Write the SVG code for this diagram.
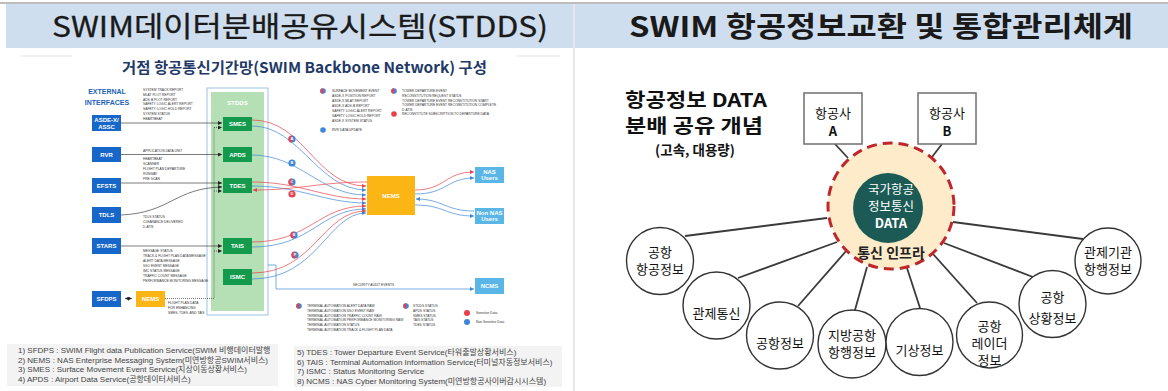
<svg xmlns="http://www.w3.org/2000/svg" width="1168" height="391" viewBox="0 0 1168 391">
<style>
.ko{font-family:"Noto Sans CJK KR","Liberation Sans",sans-serif}
.ls{font-family:"Liberation Sans","Noto Sans CJK KR",sans-serif}
.ext{fill:#1766c9}
.grn{fill:#149a4c}
.yel{fill:#fbb616}
.lbl{fill:#59b6e6}
.bw{font-family:"Liberation Sans",sans-serif;font-weight:bold;fill:#fff;text-anchor:middle;font-size:6px}
.tiny{font-family:"Liberation Sans",sans-serif;font-size:3.3px;fill:#333}
.k{stroke:#222;stroke-width:0.6;fill:none}
.dot{stroke:#222;stroke-width:0.6;fill:none;stroke-dasharray:1 1}
.r{stroke:#e8414b;stroke-width:0.7;fill:none}
.b{stroke:#3f86d8;stroke-width:0.7;fill:none}
.sat{fill:#fff;stroke:#333;stroke-width:1.4}
.st{font-family:"Noto Sans CJK KR",sans-serif;font-size:13px;fill:#111;text-anchor:middle}
.cn{stroke:#3a3a3a;stroke-width:1.8;fill:none}
.fn{font-family:"Liberation Sans","Noto Sans CJK KR",sans-serif;font-size:8px;fill:#444}
.mk{font-family:"Liberation Sans",sans-serif;font-weight:bold;font-size:4px;fill:#fff;text-anchor:middle}
</style>
<defs>
<marker id="ak" viewBox="0 0 6 6" refX="6" refY="3" markerUnits="userSpaceOnUse" markerWidth="4" markerHeight="4" orient="auto"><path d="M0,0 L6,3 L0,6 z" fill="#222"/></marker>
<marker id="ar" viewBox="0 0 6 6" refX="6" refY="3" markerUnits="userSpaceOnUse" markerWidth="4" markerHeight="4" orient="auto"><path d="M0,0 L6,3 L0,6 z" fill="#e8414b"/></marker>
<marker id="ab" viewBox="0 0 6 6" refX="6" refY="3" markerUnits="userSpaceOnUse" markerWidth="4" markerHeight="4" orient="auto"><path d="M0,0 L6,3 L0,6 z" fill="#3f86d8"/></marker>
<marker id="aks" viewBox="0 0 6 6" refX="0" refY="3" markerUnits="userSpaceOnUse" markerWidth="4" markerHeight="4" orient="auto"><path d="M6,0 L0,3 L6,6 z" fill="#222"/></marker>
</defs>
<rect width="1168" height="391" fill="#fff"/>
<!-- header -->
<g id="header">
<line x1="0" y1="3" x2="1168" y2="3" stroke="#a6a6a6" stroke-width="1.5"/>
<rect x="6" y="4" width="567" height="44" fill="#cfdeee"/>
<rect x="575" y="4" width="593" height="44" fill="#cfdeee"/>
<line x1="574" y1="4" x2="574" y2="391" stroke="#cfcfcf" stroke-width="1"/>
<text class="ko" x="300" y="37" font-size="28" fill="#1a1a1a" stroke="#1a1a1a" stroke-width="0.3" text-anchor="middle" textLength="496" lengthAdjust="spacingAndGlyphs">SWIM데이터분배공유시스템(STDDS)</text>
<text class="ko" x="881" y="37" font-size="28" font-weight="bold" fill="#1a1a1a" text-anchor="middle" textLength="504" lengthAdjust="spacingAndGlyphs">SWIM 항공정보교환 및 통합관리체계</text>
</g>
<!-- left embedded diagram -->
<g id="stdds-diagram">
<line x1="20" y1="56" x2="72" y2="56" stroke="#e3e3e3" stroke-width="1"/>
<line x1="517" y1="56" x2="560" y2="56" stroke="#e3e3e3" stroke-width="1"/>
<text class="ko" x="304.5" y="73" font-size="15" font-weight="bold" fill="#1f3a68" text-anchor="middle" textLength="365" lengthAdjust="spacingAndGlyphs">거점 항공통신기간망(SWIM Backbone Network) 구성</text>
<text class="ls" x="107" y="94" font-size="7" font-weight="bold" fill="#1c62b9" text-anchor="middle">EXTERNAL</text>
<text class="ls" x="107" y="105" font-size="7" font-weight="bold" fill="#1c62b9" text-anchor="middle">INTERFACES</text>

<g id="stdds"><rect x="207" y="88" width="61" height="227" fill="#fff" stroke="#9cc3e6" stroke-width="1"/><rect x="211" y="92" width="53" height="219" fill="#b5dfb5"/><text class="bw" x="237.5" y="105" font-size="6.5">STDDS</text></g>

<g id="ext-asdex"><rect class="ext" x="92" y="115" width="29" height="16"/><text class="bw" x="106.5" y="122" font-size="5.5">ASDE-X/</text><text class="bw" x="106.5" y="128.5" font-size="5.5">ASSC</text></g>
<g id="ext-rvr"><rect class="ext" x="92" y="147" width="29" height="15"/><text class="bw" x="106.5" y="156.5">RVR</text></g>
<g id="ext-efsts"><rect class="ext" x="92" y="178" width="29" height="15"/><text class="bw" x="106.5" y="187.5">EFSTS</text></g>
<g id="ext-tdls"><rect class="ext" x="92" y="207" width="29" height="16"/><text class="bw" x="106.5" y="217">TDLS</text></g>
<g id="ext-stars"><rect class="ext" x="92" y="238" width="29" height="16"/><text class="bw" x="106.5" y="248">STARS</text></g>
<g id="ext-sfdps"><rect class="ext" x="92" y="291" width="29" height="16"/><text class="bw" x="106.5" y="301">SFDPS</text></g>
<g id="nems-small"><rect class="yel" x="136" y="291" width="29" height="16"/><text class="bw" x="150.5" y="301">NEMS</text></g>

<g id="smes"><rect class="grn" x="223" y="117" width="29" height="14"/><text class="bw" x="237.5" y="126">SMES</text></g>
<g id="apds"><rect class="grn" x="223" y="147" width="29" height="15"/><text class="bw" x="237.5" y="156.5">APDS</text></g>
<g id="tdes"><rect class="grn" x="223" y="178" width="29" height="15"/><text class="bw" x="237.5" y="187.5">TDES</text></g>
<g id="tais"><rect class="grn" x="223" y="238" width="29" height="16"/><text class="bw" x="237.5" y="248">TAIS</text></g>
<g id="ismc"><rect class="grn" x="223" y="269" width="29" height="16"/><text class="bw" x="237.5" y="279">ISMC</text></g>

<g id="nems"><rect class="yel" x="367" y="176" width="48" height="39"/><text class="bw" x="391" y="198" font-size="7">NEMS</text></g>
<g id="nas-users"><rect class="lbl" x="475" y="167" width="29" height="16"/><text class="bw" x="489.5" y="174" font-size="5.5">NAS</text><text class="bw" x="489.5" y="180" font-size="5.5">Users</text></g>
<g id="non-nas-users"><rect class="lbl" x="475" y="208" width="29" height="16"/><text class="bw" x="489.5" y="215" font-size="5.5">Non NAS</text><text class="bw" x="489.5" y="221" font-size="5.5">Users</text></g>
<g id="ncms"><rect class="lbl" x="475" y="278" width="29" height="16"/><text class="bw" x="489.5" y="288" font-size="6.5">NCMS</text></g>

<g id="stdds-connectors">
<line class="k" x1="121" y1="123" x2="222" y2="123" marker-end="url(#ak)"/>
<line class="k" x1="121" y1="154.5" x2="222" y2="154.5" marker-end="url(#ak)"/>
<line class="k" x1="121" y1="183" x2="222" y2="183" marker-end="url(#ak)"/>
<path class="k" d="M121,215 C170,213 175,188 222,187" marker-end="url(#ak)"/>
<line class="k" x1="121" y1="246" x2="222" y2="246" marker-end="url(#ak)"/>
<line class="k" x1="125" y1="298.5" x2="132" y2="298.5" marker-start="url(#aks)" marker-end="url(#ak)"/>
<path class="dot" d="M165,298.5 H214 V127"/>
<line class="dot" x1="214" y1="127.5" x2="222" y2="127.5" marker-end="url(#ak)"/>
<line class="dot" x1="214" y1="191" x2="222" y2="191" marker-end="url(#ak)"/>
<line class="dot" x1="214" y1="251" x2="222" y2="251" marker-end="url(#ak)"/>

<path class="r" d="M252,120 C305,120 315,186 366,186" marker-end="url(#ar)"/>
<path class="b" d="M252,126 C300,126 318,190 366,190" marker-end="url(#ab)"/>
<path class="b" d="M252,155 C300,155 320,195 366,195" marker-end="url(#ab)"/>
<path class="r" d="M252,182 C300,182 325,199 366,199" marker-end="url(#ar)"/>
<path class="b" d="M252,186 C300,186 325,203 366,203" marker-end="url(#ab)"/>
<path class="r" d="M367,182 C320,182 300,190 253,190" marker-end="url(#ar)"/>
<path class="r" d="M252,242 C310,242 318,206 366,206" marker-end="url(#ar)"/>
<path class="b" d="M252,247 C312,247 320,209 366,209" marker-end="url(#ab)"/>
<path class="r" d="M252,273 C315,273 322,211 366,211" marker-end="url(#ar)"/>
<path class="b" d="M252,279 C318,279 328,213 366,213" marker-end="url(#ab)"/>

<path class="r" d="M415,190 C445,190 445,172 474,172" marker-end="url(#ar)"/>
<path class="b" d="M415,194 C447,194 447,178 474,178" marker-end="url(#ab)"/>
<path class="b" d="M474,211 C445,211 443,199 416,199" marker-end="url(#ab)"/>
<path class="b" d="M415,205 C445,205 445,216 474,216" marker-end="url(#ab)"/>
<path class="b" d="M268,265 H276 V289 H474" marker-end="url(#ab)"/>
</g>

<g id="data-markers">
<g><circle cx="292" cy="139" r="3.6" fill="#3f86d8"/><path d="M292,135.4 A3.6,3.6 0 0 0 292,142.6 Z" fill="#e8414b"/><text class="mk" x="292" y="140.4">A</text></g>
<g><circle cx="292" cy="163" r="3.6" fill="#3f86d8"/><text class="mk" x="292" y="164.4">B</text></g>
<g><circle cx="292" cy="182" r="3.6" fill="#3f86d8"/><path d="M292,178.4 A3.6,3.6 0 0 0 292,185.6 Z" fill="#e8414b"/><text class="mk" x="292" y="183.4">C</text></g>
<g><circle cx="292" cy="194" r="3.6" fill="#e8414b"/><text class="mk" x="292" y="195.4">D</text></g>
<g><circle cx="294" cy="235" r="3.6" fill="#3f86d8"/><path d="M294,231.4 A3.6,3.6 0 0 0 294,238.6 Z" fill="#e8414b"/><text class="mk" x="294" y="236.4">E</text></g>
<g><circle cx="295" cy="255" r="3.6" fill="#3f86d8"/><path d="M295,251.4 A3.6,3.6 0 0 0 295,258.6 Z" fill="#e8414b"/><text class="mk" x="295" y="256.4">F</text></g>
</g>

<g id="tiny-labels">
<text class="tiny"><tspan x="143" y="91">SYSTEM TRACK REPORT</tspan><tspan x="143" dy="4.8">MLAT PLOT REPORT</tspan><tspan x="143" dy="4.8">ADS-B PLOT REPORT</tspan><tspan x="143" dy="4.8">SAFETY LOGIC ALERT REPORT</tspan><tspan x="143" dy="4.8">SAFETY LOGIC HOLD REPORT</tspan><tspan x="143" dy="4.8">SYSTEM STATUS</tspan><tspan x="143" dy="4.8">HEARTBEAT</tspan></text>
<text class="tiny" x="143" y="152">APPLICATION DATA UNIT</text>
<text class="tiny"><tspan x="143" y="160">HEARTBEAT</tspan><tspan x="143" dy="4.9">SCANNER</tspan><tspan x="143" dy="4.9">FLIGHT PLAN DEPARTURE</tspan><tspan x="143" dy="4.9">RUNWAY</tspan><tspan x="143" dy="4.9">PRE SCAN</tspan></text>
<text class="tiny"><tspan x="143" y="218">TDLS STATUS</tspan><tspan x="143" dy="5">CLEARANCE DELIVERED</tspan><tspan x="143" dy="5">D-ATIS</tspan></text>
<text class="tiny"><tspan x="143" y="252">MESSAGE STATUS</tspan><tspan x="143" dy="5">TRACK &amp; FLIGHT PLAN DATA MESSAGE</tspan><tspan x="143" dy="5">ALERT DATA MESSAGE</tspan><tspan x="143" dy="5">SSO EVENT MESSAGE</tspan><tspan x="143" dy="5">IMC STATUS MESSAGE</tspan><tspan x="143" dy="5">TRAFFIC COUNT MESSAGE</tspan><tspan x="143" dy="5">PERFORMANCE MONITORING MESSAGE</tspan></text>
<text class="tiny"><tspan x="168" y="304">FLIGHT PLAN DATA</tspan><tspan x="168" dy="5">FOR ENHANCING</tspan><tspan x="168" dy="5">SMES, TDES, AND TAIS</tspan></text>
<text class="tiny" x="353" y="286">SECURITY AUDIT EVENTS</text>
</g>

<g id="legend-top">
<circle cx="323" cy="91" r="2.8" fill="#3f86d8"/><path d="M323,88.2 A2.8,2.8 0 0 0 323,93.8 Z" fill="#e8414b"/>
<text class="tiny"><tspan x="332" y="92">SURFACE MOVEMENT EVENT</tspan><tspan x="332" dy="5">ASDE-X POSITION REPORT</tspan><tspan x="332" dy="5">ASDE-X MLAT REPORT</tspan><tspan x="332" dy="5">ASDE-X ADS-B REPORT</tspan><tspan x="332" dy="5">SAFETY LOGIC ALERT REPORT</tspan><tspan x="332" dy="5">SAFETY LOGIC HOLD REPORT</tspan><tspan x="332" dy="5">ASDE-X SYSTEM STATUS</tspan></text>
<circle cx="323" cy="130" r="2.8" fill="#3f86d8"/>
<text class="tiny" x="332" y="131">RVR DATA UPDATE</text>
<circle cx="394" cy="91" r="2.8" fill="#3f86d8"/><path d="M394,88.2 A2.8,2.8 0 0 0 394,93.8 Z" fill="#e8414b"/>
<text class="tiny"><tspan x="402" y="92">TOWER DEPARTURE EVENT</tspan><tspan x="402" dy="4.8">RECONSTITUTION REQUEST STATUS</tspan><tspan x="402" dy="4.8">TOWER DEPARTURE EVENT RECONSTITUTION START</tspan><tspan x="402" dy="4.8">TOWER DEPARTURE EVENT RECONSTITUTION COMPLETE</tspan><tspan x="402" dy="4.2">D-ATIS</tspan></text>
<circle cx="394" cy="114" r="2.8" fill="#e8414b"/>
<text class="tiny" x="402" y="115">RECONSTITUTE SUBSCRIPTION TO DEPARTURE DATA</text>
</g>

<g id="legend-bottom">
<circle cx="299" cy="306" r="2.8" fill="#3f86d8"/><path d="M299,303.2 A2.8,2.8 0 0 0 299,308.8 Z" fill="#e8414b"/>
<text class="tiny"><tspan x="307" y="307">TERMINAL AUTOMATION ALERT DATA RAW</tspan><tspan x="307" dy="4.8">TERMINAL AUTOMATION SSO EVENT RAW</tspan><tspan x="307" dy="4.8">TERMINAL AUTOMATION TRAFFIC COUNT RAW</tspan><tspan x="307" dy="4.8">TERMINAL AUTOMATION PERFORMANCE MONITORING RAW</tspan><tspan x="307" dy="4.8">TERMINAL AUTOMATION STATUS</tspan><tspan x="307" dy="4.8">TERMINAL AUTOMATION TRACK &amp; FLIGHT PLAN DATA</tspan></text>
<circle cx="406" cy="306" r="2.8" fill="#3f86d8"/><path d="M406,303.2 A2.8,2.8 0 0 0 406,308.8 Z" fill="#e8414b"/>
<text class="tiny"><tspan x="413" y="307">STDDS STATUS</tspan><tspan x="413" dy="4.8">APDS STATUS</tspan><tspan x="413" dy="4.8">SMES STATUS</tspan><tspan x="413" dy="4.8">TAIS STATUS</tspan><tspan x="413" dy="4.8">TDES STATUS</tspan></text>
<circle cx="467" cy="313" r="3" fill="#e8414b"/><text class="tiny" x="476" y="314">Sensitive Data</text>
<circle cx="467" cy="322" r="3" fill="#3f86d8"/><text class="tiny" x="476" y="323">Non Sensitive Data</text>
</g>

<g id="footnotes">
<rect x="7" y="344" width="271" height="42" fill="#f3f3f3"/>
<rect x="294" y="346" width="268" height="41" fill="#f3f3f3"/>
<text class="fn"><tspan x="18" y="353">1)  SFDPS : SWIM Flight data Publication Service(SWIM 비행데이터발행</tspan><tspan x="18" dy="9.5">2)  NEMS : NAS Enterprise Messaging System(미연방항공SWIM서비스)</tspan><tspan x="18" dy="9.5">3)  SMES : Surface Movement Event Service(지상이동상황서비스)</tspan><tspan x="18" dy="9.5">4)  APDS : Airport Data Service(공항데이터서비스)</tspan></text>
<text class="fn"><tspan x="297" y="355">5)  TDES : Tower Departure Event Service(타워출발상황서비스)</tspan><tspan x="297" dy="9.5">6)  TAIS : Terminal Automation Information Service(터미널자동정보서비스)</tspan><tspan x="297" dy="9.5">7)  ISMC : Status Monitoring Service</tspan><tspan x="297" dy="9.5">8)  NCMS : NAS Cyber Monitoring System(미연방항공사이버감시시스템)</tspan></text>
</g>
</g>

<!-- right concept diagram -->
<g id="concept-title">
<text class="ko" x="696" y="107" font-size="19" font-weight="bold" fill="#111" text-anchor="middle" textLength="142" lengthAdjust="spacingAndGlyphs">항공정보 DATA</text>
<text class="ko" x="694" y="133" font-size="19" font-weight="bold" fill="#111" text-anchor="middle" textLength="138" lengthAdjust="spacingAndGlyphs">분배 공유 개념</text>
<text class="ko" x="695" y="155" font-size="13.5" font-weight="bold" fill="#111" text-anchor="middle">(고속, 대용량)</text>
</g>

<g id="concept-connectors">
<line class="cn" x1="835" y1="144" x2="848" y2="158"/>
<line class="cn" x1="942" y1="144" x2="932" y2="157"/>
<line class="cn" x1="685" y1="236" x2="827" y2="218"/>
<line class="cn" x1="738" y1="278" x2="837" y2="242"/>
<line class="cn" x1="798" y1="306" x2="847" y2="250"/>
<line class="cn" x1="855" y1="310" x2="867" y2="267"/>
<line class="cn" x1="920" y1="308" x2="907" y2="268"/>
<line class="cn" x1="977" y1="303" x2="933" y2="254"/>
<line class="cn" x1="1033" y1="277" x2="944" y2="243"/>
<line class="cn" x1="1083" y1="239" x2="953" y2="222"/>
</g>

<g id="node-airline-a"><rect x="804" y="93" width="58" height="51" fill="#fff" stroke="#6f6f6f" stroke-width="1.5"/><text class="st" x="833" y="118">항공사</text><text class="st" x="833" y="136" font-weight="bold">A</text></g>
<g id="node-airline-b"><rect x="918" y="93" width="58" height="51" fill="#fff" stroke="#6f6f6f" stroke-width="1.5"/><text class="st" x="947" y="118">항공사</text><text class="st" x="947" y="136" font-weight="bold">B</text></g>

<g id="node-infra">
<circle cx="891" cy="206" r="63" fill="#fdebc9" stroke="#c0272d" stroke-width="3" stroke-dasharray="10 6"/>
<circle cx="888" cy="208" r="35" fill="#1c5b55"/>
<text class="ko" x="891" y="194" font-size="12.5" fill="#fff" text-anchor="middle">국가항공</text>
<text class="ko" x="891" y="211" font-size="12.5" fill="#fff" text-anchor="middle">정보통신</text>
<text class="ko" x="891" y="228" font-size="13" font-weight="bold" fill="#fff" text-anchor="middle">DATA</text>
<text class="ko" x="891" y="258" font-size="14" font-weight="bold" fill="#222" text-anchor="middle">통신 인프라</text>
</g>

<g id="node-airport-aero"><circle class="sat" cx="660" cy="261" r="33.5"/><text class="st" x="660" y="257">공항</text><text class="st" x="660" y="274">항공정보</text></g>
<g id="node-atc-comm"><circle class="sat" cx="716.5" cy="305.5" r="33.5"/><text class="st" x="716.5" y="318">관제통신</text></g>
<g id="node-airport-info"><circle class="sat" cx="780" cy="335.5" r="33.5"/><text class="st" x="780" y="348">공항정보</text></g>
<g id="node-local-airport"><circle class="sat" cx="852" cy="344" r="34"/><text class="st" x="852" y="340">지방공항</text><text class="st" x="852" y="357">항행정보</text></g>
<g id="node-weather"><circle class="sat" cx="919.5" cy="342" r="33.5"/><text class="st" x="919.5" y="355">기상정보</text></g>
<g id="node-radar"><circle class="sat" cx="989.5" cy="335" r="33"/><text class="st" x="989.5" y="331">공항</text><text class="st" x="989.5" y="348">레이더</text><text class="st" x="989.5" y="365">정보</text></g>
<g id="node-airport-status"><circle class="sat" cx="1052.5" cy="304" r="33.5"/><text class="st" x="1052.5" y="302">공항</text><text class="st" x="1052.5" y="323">상황정보</text></g>
<g id="node-atc-nav"><circle class="sat" cx="1108" cy="261" r="33"/><text class="st" x="1108" y="257">관제기관</text><text class="st" x="1108" y="274">항행정보</text></g>
</svg>
